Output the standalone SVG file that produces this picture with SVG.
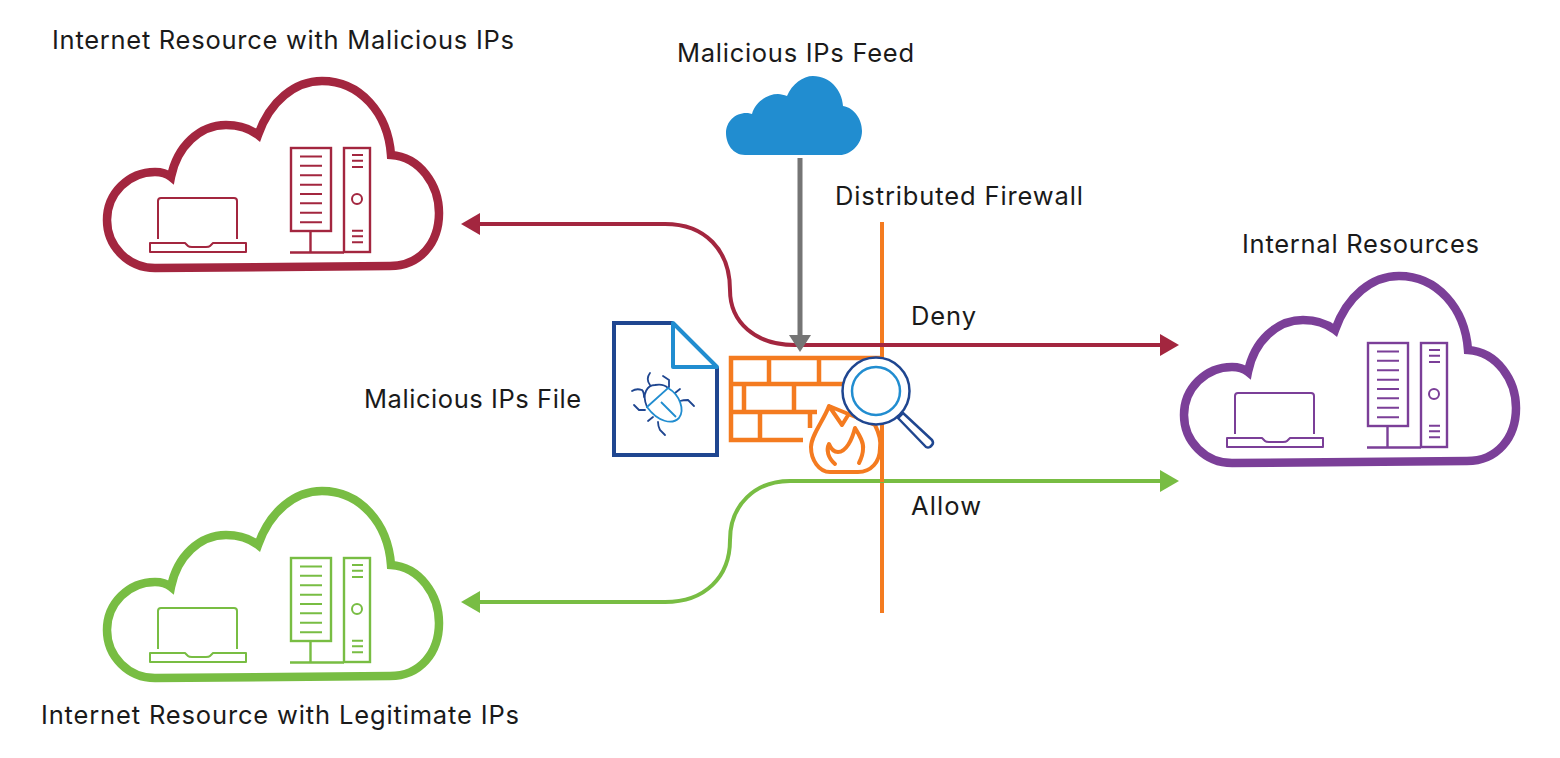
<svg xmlns="http://www.w3.org/2000/svg" xmlns:xlink="http://www.w3.org/1999/xlink" width="1560" height="758" viewBox="0 0 1560 758">
<style>
text{font-family:"Inter","Open Sans","Liberation Sans",sans-serif;font-size:25.500px;fill:#1a1a1a}
.out{fill:none;stroke:currentColor;stroke-width:8.500;stroke-linejoin:miter}
.thin{fill:none;stroke:currentColor;stroke-width:2}
.med{fill:none;stroke:currentColor;stroke-width:2.400}
.conn{fill:none;stroke-width:4}
.brick{fill:none;stroke:#f47b20;stroke-width:4.500}
.red{color:#a3263f}.green{color:#78bd43}.purple{color:#7b3f98}
.green .out{stroke-width:10}
.bugn{fill:none;stroke:#1f4690;stroke-width:1.800;stroke-linecap:round}
.bugb{fill:none;stroke:#218dd0;stroke-width:1.800}
</style>
<defs>
<g id="res">
<path class="out" d="M390 266L155 268A48 48 0 0 1 155 172C160 172 166 173 171 177C177 146 200 125 226 125C238 125 249 128 258 135C270 101 295 81 322 81C360 81 388 113 391 155C420 157 439 185 439 213C439 243 420 266 390 266Z"/>
<path class="thin" d="M158 239V201Q158 198 161 198H234Q237 198 237 201V239"/>
<path class="thin" stroke-linejoin="round" d="M150 243H185L188 246Q189 247 192 247H206Q209 247 210 246L213 243H246V252H150Z"/>
<rect class="med" x="291" y="148" width="40" height="83"/>
<rect class="med" x="344" y="148" width="26" height="104"/>
<path class="med" d="M290 252.500H344M310.500 231V252"/>
<path class="thin" d="M300 156.500H322M300 165.700H322M300 175.300H322M300 184.700H322M300 194H322M300 203.300H322M300 212.700H322M300 222.300H322M352 155H363M352 160.700H363M352 167H363M352 230.700H363M352 236.300H363M352 242.300H363"/>
<circle class="thin" cx="357" cy="199" r="5"/>
</g>
<marker id="hr" markerUnits="userSpaceOnUse" markerWidth="20" markerHeight="22" refX="10" refY="11" orient="auto-start-reverse"><path d="M0 0L19 11L0 22Z" fill="#a3263f"/></marker>
<marker id="hg" markerUnits="userSpaceOnUse" markerWidth="20" markerHeight="22" refX="10" refY="11" orient="auto-start-reverse"><path d="M0 0L19 11L0 22Z" fill="#78bd43"/></marker>
<marker id="hy" markerUnits="userSpaceOnUse" markerWidth="20" markerHeight="22" refX="8" refY="11" orient="auto"><path d="M0 0L17 11L0 22Z" fill="#757575"/></marker>
</defs>
<g id="firewall-line"><path d="M882 222V613" fill="none" stroke="#f47b20" stroke-width="4"/></g>
<g id="connectors">
<path class="conn" stroke="#a3263f" marker-start="url(#hr)" marker-end="url(#hr)" d="M470 224H665C705 224 730 250 730 290C730 322 755 345 795 345H1170"/>
<path class="conn" stroke="#78bd43" marker-start="url(#hg)" marker-end="url(#hg)" d="M470 602H665C705 602 730 577 730 540C730 505 755 481 790 481H1170"/>
<path d="M800 158V343" fill="none" stroke="#757575" stroke-width="5" marker-end="url(#hy)"/>
</g>
<g id="malicious-resource" class="red"><use href="#res"/><text x="52" y="49" textLength="462">Internet Resource with Malicious IPs</text></g>
<g id="legitimate-resource" class="green"><use href="#res" y="410"/><text x="41" y="724" textLength="478">Internet Resource with Legitimate IPs</text></g>
<g id="internal-resources" class="purple"><use href="#res" x="1077" y="195"/><text x="1242" y="253" textLength="237">Internal Resources</text></g>
<g id="feed"><path fill="#218dd0" d="M745 155C733 155 726 144 726 133C726 121 736 112 748 113L752 114C755 102 767 94 778 94C781 94 784 95 787 96C792 84 803 76 813 76C830 76 842 90 843 106C855 108 862 120 862 131C862 145 850 155 840 155Z"/><text x="677" y="62" textLength="237">Malicious IPs Feed</text></g>
<g id="file">
<path fill="none" stroke="#1f4690" stroke-width="4" d="M673 323H614V455H717V367"/>
<path fill="none" stroke="#218dd0" stroke-width="4" stroke-linejoin="round" d="M673 323V367H717Z"/>
<path class="bugn" d="M647 407C641 393 648 385 655 385C660 384 665 385 668 388M650 373C647 377 647 381 650 385M663 376L669 380V387M632 391C635 389 639 389 642 390C644 392 644 395 644 397M634 405L639 410H645M648 421L653 417M658 422C658 426 659 428 660 430L665 435M675 393L680 389M680 401C683 400 686 400 688 400L694 406"/>
<path class="bugb" d="M647 407L668 388C680 395 685 410 679 418C672 425 658 422 647 407ZM661 402L676 417"/>
<text x="364" y="408" textLength="217">Malicious IPs File</text>
</g>
<g id="firewall-icon">
<path class="brick" d="M843 384H731V358H880M731 384V412M731 412H817M731 412V440H803M769 358V384M819 358V384M744 384V412M794 384V412M760 412V440M810 412V428"/>
<path fill="#fff" stroke="#fff" stroke-width="9" d="M829 406L842 425L848 413L875 425C880 435 881 442 880 448C880 462 871 472 858 472H826C817 470 811 458 811 445C813 433 824 418 829 406Z"/>
<path fill="none" stroke="#f47b20" stroke-width="4" stroke-linejoin="round" d="M829 406L842 425L850 412M875 425C880 435 881 442 880 448C880 462 871 472 858 472H830C819 472 811 460 811 447C811 435 824 420 829 406Z"/>
<path fill="none" stroke="#f47b20" stroke-width="4" stroke-linecap="round" stroke-linejoin="round" d="M835 464C828 458 826 450 829 444C831 449 834 452 838 452C846 452 852 440 855 428C860 436 864 443 863 449C863 454 861 459 859 463"/>
<path fill="none" stroke="#f47b20" stroke-width="4" d="M882 425V482"/>
<circle cx="876" cy="391" r="33.500" fill="#fff" stroke="#1f4690" stroke-width="2.500"/>
<circle cx="876" cy="391" r="24" fill="none" stroke="#218dd0" stroke-width="2.500"/>
<path fill="#fff" stroke="#1f4690" stroke-width="2.500" stroke-linejoin="round" d="M903 413L932 440Q934 443 932 445L930 447Q928 448 926 447L898 418Z"/>
</g>
<text x="835" y="205" textLength="248">Distributed Firewall</text>
<text x="911" y="325" textLength="65">Deny</text>
<text x="911" y="515" textLength="70">Allow</text>
</svg>
